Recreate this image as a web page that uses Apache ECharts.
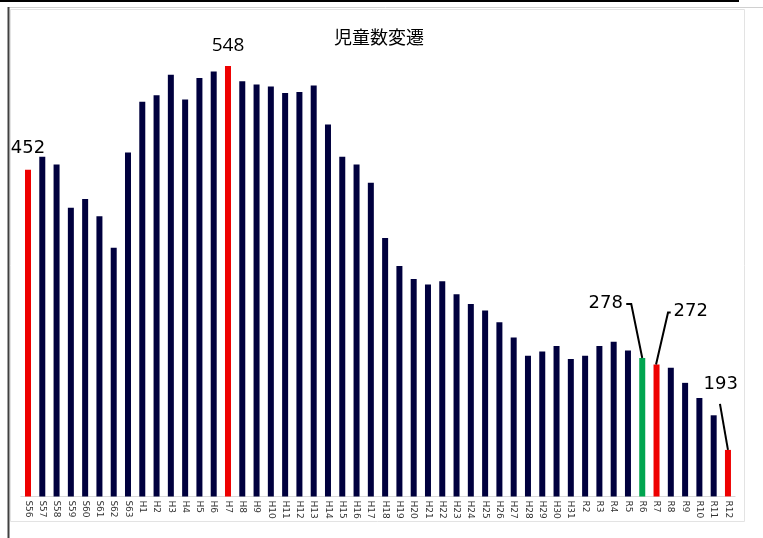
<!DOCTYPE html>
<html>
<head>
<meta charset="utf-8">
<script src="https://cdn.jsdelivr.net/npm/echarts@6/dist/echarts.min.js"></script>
<style>
html,body{margin:0;padding:0;background:#fff;}
#c{width:763px;height:538px;}
</style>
</head>
<body>
<div id="c"></div>
<script>
const chartTitle = '児童数変遷';
const categories = ['S56','S57','S58','S59','S60','S61','S62','S63',
  'H1','H2','H3','H4','H5','H6','H7','H8','H9','H10','H11','H12','H13','H14','H15','H16','H17','H18','H19','H20',
  'H21','H22','H23','H24','H25','H26','H27','H28','H29','H30','H31',
  'R2','R3','R4','R5','R6','R7','R8','R9','R10','R11','R12'];
const values = [452,464,457,417,425,409,380,468,
  515,521,540,517,537,543,548,534,531,529,523,524,530,494,464,457,440,389,363,351,
  346,349,337,328,322,311,297,280,284,289,277,
  280,289,293,285,278,272,269,255,241,225,193];
const redCats = ['S56','H7','R7','R12'];
const greenCats = ['R6'];
const topLabelCats = ['S56','H7'];
const calloutCats = ['R6','R7','R12'];

// styles (pixel offsets relative to bar top, fonts)
const COLORS = {normal:'#00003e', red:'#ee0000', green:'#00a54f'};
const topLabelStyle = {
  S56:{fontFamily:'DejaVu Sans', fontSize:18, distance:12},
  H7:{fontFamily:'Open Sans', fontSize:19, distance:11}
};
const calloutStyle = {
  R6:{text:[-36.5,-54.5], line:[[0,0],[-11,-54],[-16,-54]]},
  R7:{text:[34.2,-52.8], line:[[-0.5,0],[11.5,-52],[14.2,-52]]},
  R12:{text:[-7.3,-65.8], line:[[0,0],[-8,-46]]}
};

const chart = echarts.init(document.getElementById('c'), null, {renderer:'canvas'});

const barData = categories.map((c, i) => {
  let color = COLORS.normal;
  if (redCats.includes(c)) color = COLORS.red;
  if (greenCats.includes(c)) color = COLORS.green;
  const item = {value: values[i], itemStyle:{color}};
  if (topLabelCats.includes(c)) {
    const s = topLabelStyle[c];
    item.label = {show:true, position:'top', distance:s.distance, color:'#000',
      fontFamily:s.fontFamily, fontSize:s.fontSize};
  }
  return item;
});

const calloutData = calloutCats.map(c => [c, values[categories.indexOf(c)]]);

chart.setOption({
  animation:false,
  backgroundColor:'#fff',
  title:{text:chartTitle, left:374, top:23, textAlign:'center',
    textStyle:{fontFamily:'Noto Sans CJK JP', fontSize:18, fontWeight:'normal', color:'#000'}},
  graphic:[
    {type:'rect', z:-10, shape:{x:10.5, y:9.5, width:734, height:512},
      style:{fill:'#fff', stroke:'#e3e3e3', lineWidth:1}},
    {type:'rect', z:-5, shape:{x:0, y:0, width:739, height:2}, style:{fill:'#000'}},
    {type:'line', z:-5, shape:{x1:8, y1:7.5, x2:763, y2:7.5}, style:{stroke:'#d0d0d0', lineWidth:1}},
    {type:'line', z:-5, shape:{x1:8.5, y1:7, x2:8.5, y2:538}, style:{stroke:'#404040', lineWidth:2}}
  ],
  grid:{left:20.86, right:27.9, top:9.76, bottom:41.6, containLabel:false, outerBoundsMode:'none'},
  xAxis:{type:'category', data:categories,
    axisLine:{show:true, lineStyle:{color:'#d9d9d9', width:1}},
    axisTick:{show:false},
    axisLabel:{interval:0, rotate:-90, margin:4, fontSize:9, color:'#333', fontFamily:'DejaVu Sans'}
  },
  yAxis:{type:'value', min:150, max:600, show:false, splitLine:{show:false}},
  series:[
    {type:'bar', data:barData, barWidth:6},
    {type:'custom', data:calloutData, clip:false, z:5,
      renderItem:function(params, api){
        const st = calloutStyle[calloutCats[params.dataIndex]];
        const p = api.coord([api.value(0), api.value(1)]);
        return {type:'group', children:[
          {type:'polyline', shape:{points:st.line.map(o => [p[0]+o[0], p[1]+o[1]])},
            style:{stroke:'#000', lineWidth:2, fill:null}},
          {type:'text', x:p[0]+st.text[0], y:p[1]+st.text[1],
            style:{text:String(api.value(1)), font:'18px "DejaVu Sans"', fill:'#000',
              align:'center', verticalAlign:'middle'}}
        ]};
      }
    }
  ]
});
</script>
</body>
</html>
